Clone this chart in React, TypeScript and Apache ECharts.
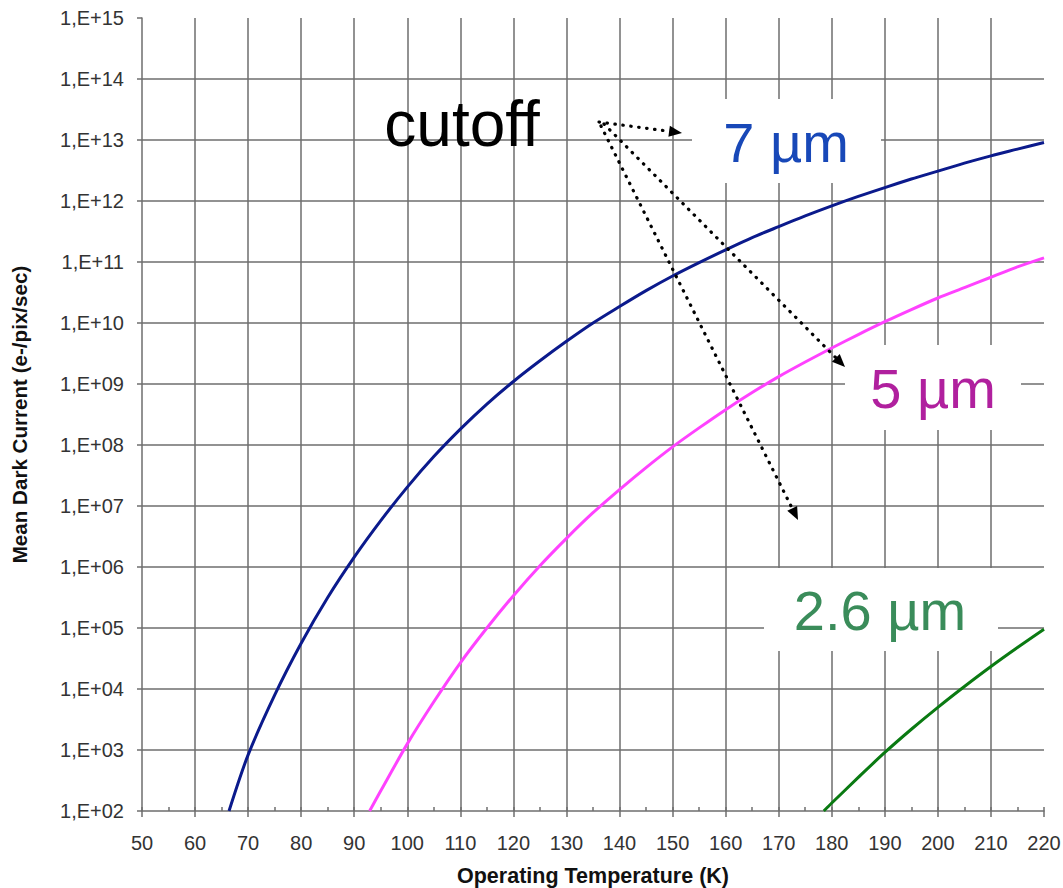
import React, { useEffect, useRef } from "react";
import * as echarts from "echarts";

// Operating temperature (K) sample points and mean dark current (e-/pix/sec) per cutoff wavelength
const temps7um = [66.4, 70, 75, 80, 85, 90, 95, 100, 105, 110, 115, 120, 125, 130, 135, 140, 145, 150, 155, 160, 165, 170, 175, 180, 185, 190, 195, 200, 205, 210, 215, 220];
const current7um = [
  1.0e2, 8.32e2, 7.94e3, 5.62e4, 3.16e5, 1.45e6, 5.75e6, 2.04e7, 6.46e7, 1.82e8, 4.68e8, 1.1e9, 2.4e9, 5.01e9, 1.0e10, 1.86e10,
  3.39e10, 5.89e10, 9.77e10, 1.58e11, 2.51e11, 3.8e11, 5.69e11, 8.32e11, 1.19e12, 1.66e12, 2.29e12, 3.09e12, 4.17e12, 5.5e12, 7.08e12, 9.12e12,
];

const temps5um = [92.9, 95, 100, 105, 110, 115, 120, 125, 130, 135, 140, 145, 150, 155, 160, 165, 170, 175, 180, 185, 190, 195, 200, 205, 210, 215, 220];
const current5um = [
  1.0e2, 2.14e2, 1.26e3, 6.17e3, 2.69e4, 1.0e5, 3.39e5, 1.05e6, 2.95e6, 7.76e6, 1.86e7, 4.27e7, 9.33e7, 1.91e8, 3.8e8, 7.24e8,
  1.32e9, 2.29e9, 3.89e9, 6.46e9, 1.05e10, 1.66e10, 2.57e10, 3.8e10, 5.62e10, 8.32e10, 1.17e11,
];

const temps26um = [178.5, 180, 185, 190, 195, 200, 205, 210, 215, 220];
const current26um = [1.0e2, 1.35e2, 3.55e2, 9.12e2, 2.19e3, 5.01e3, 1.1e4, 2.34e4, 4.79e4, 9.55e4];

const cutoffLabels = ["7 µm", "5 µm", "2.6 µm"];
const lineColors = ["#0b1a8c", "#ff42ff", "#0a7a12"];
const labelColors = ["#1848b8", "#b0209e", "#3a8c5a"];

const FONT = '"Liberation Sans", Arial, Helvetica, sans-serif';
const GRID_COLOR = "#6e6e6e";

const pairs = (xs: number[], ys: number[]) => xs.map((x, i) => [x, ys[i]]);

// Dotted pointer with a filled triangular head
function dottedArrow(x1: number, y1: number, x2: number, y2: number) {
  const dx = x2 - x1;
  const dy = y2 - y1;
  const len = Math.hypot(dx, dy);
  const ux = dx / len;
  const uy = dy / len;
  const px = -uy;
  const py = ux;
  const headLen = 13;
  const headHalf = 5.5;
  const bx = x2 - ux * headLen;
  const by = y2 - uy * headLen;
  return [
    {
      type: "line",
      z: 100,
      shape: { x1, y1, x2: bx, y2: by },
      style: { stroke: "#000", lineWidth: 3.2, lineCap: "round", lineDash: [0.5, 7.5] },
    },
    {
      type: "polygon",
      z: 100,
      shape: {
        points: [
          [x2, y2],
          [bx + px * headHalf, by + py * headHalf],
          [bx - px * headHalf, by - py * headHalf],
        ],
      },
      style: { fill: "#000" },
    },
  ];
}

function labelBox(
  text: string,
  color: string,
  box: [number, number, number, number],
  cx: number,
  cy: number
) {
  return [
    {
      type: "rect",
      z: 90,
      shape: { x: box[0], y: box[1], width: box[2] - box[0], height: box[3] - box[1] },
      style: { fill: "#ffffff" },
    },
    {
      type: "text",
      z: 95,
      x: cx,
      y: cy,
      style: {
        text,
        fill: color,
        fontSize: 56,
        fontFamily: FONT,
        align: "center",
        verticalAlign: "middle",
      },
    },
  ];
}

export default function App() {
  const ref = useRef<HTMLDivElement>(null);

  useEffect(() => {
    if (!ref.current) return;
    const chart = echarts.init(ref.current, undefined, { renderer: "svg" });

    const lineStyle = { color: GRID_COLOR, width: 1.5 };

    const option: any = {
      animation: false,
      backgroundColor: "#ffffff",
      grid: { left: 142, right: 19, top: 18, bottom: 77, containLabel: false, outerBoundsMode: "none" },
      xAxis: [
        {
          type: "value",
          min: 50,
          max: 220,
          interval: 10,
          position: "bottom",
          name: "Operating Temperature (K)",
          nameLocation: "middle",
          nameGap: 54,
          nameTextStyle: { fontFamily: FONT, fontSize: 21.5, fontWeight: "bold", color: "#111" },
          axisLine: { show: true, onZero: false, lineStyle },
          axisTick: { show: true, length: 6, lineStyle },
          axisLabel: { margin: 22, fontSize: 20, color: "#333", fontFamily: FONT },
          splitLine: { show: true, showMinLine: false, showMaxLine: false, lineStyle },
        },
        {
          // half-step ticks pointing into the plot
          type: "value",
          min: 50,
          max: 220,
          interval: 5,
          position: "bottom",
          axisLine: { show: false, onZero: false },
          axisTick: { show: true, inside: true, length: 4, lineStyle },
          axisLabel: { show: false },
          splitLine: { show: false },
        },
      ],
      yAxis: {
        type: "log",
        logBase: 10,
        min: 1e2,
        max: 1e15,
        interval: 1,
        name: "Mean Dark Current (e-/pix/sec)",
        nameLocation: "middle",
        nameRotate: 90,
        nameGap: 112,
        nameTextStyle: { fontFamily: FONT, fontSize: 20.6, fontWeight: "bold", color: "#111" },
        axisLine: { show: true, onZero: false, lineStyle },
        axisTick: { show: true, length: 5, lineStyle },
        axisLabel: {
          margin: 18,
          fontSize: 20,
          color: "#333",
          fontFamily: FONT,
          formatter: (v: number) => {
            const e = Math.round(Math.log10(v));
            return "1,E+" + String(e).padStart(2, "0");
          },
        },
        splitLine: { show: true, showMinLine: false, showMaxLine: false, lineStyle },
      },
      series: [
        { data: pairs(temps7um, current7um), color: lineColors[0] },
        { data: pairs(temps5um, current5um), color: lineColors[1] },
        { data: pairs(temps26um, current26um), color: lineColors[2] },
      ].map((s, i) => ({
        name: cutoffLabels[i],
        type: "line",
        xAxisIndex: 0,
        data: s.data,
        smooth: 0.3,
        showSymbol: false,
        symbol: "none",
        lineStyle: { color: s.color, width: 3, join: "round" },
        z: 10,
      })),
      graphic: [
        {
          type: "text",
          z: 95,
          x: 462,
          y: 124,
          style: {
            text: "cutoff",
            fill: "#000",
            fontSize: 64,
            fontFamily: FONT,
            align: "center",
            verticalAlign: "middle",
          },
        },
        ...labelBox(cutoffLabels[0], labelColors[0], [692, 99, 881, 183], 786, 142),
        ...labelBox(cutoffLabels[1], labelColors[1], [845, 345, 1021, 430], 933, 388),
        ...labelBox(cutoffLabels[2], labelColors[2], [764, 568, 998, 651], 880, 610),
        ...dottedArrow(599, 122, 682, 133),
        ...dottedArrow(604, 124, 845, 367),
        ...dottedArrow(601, 126, 798, 520),
      ],
    };

    chart.setOption(option);
    return () => chart.dispose();
  }, []);

  return (
    <div
      ref={ref}
      style={{ position: "fixed", left: 0, top: 0, width: 1063, height: 888, background: "#fff" }}
    />
  );
}
